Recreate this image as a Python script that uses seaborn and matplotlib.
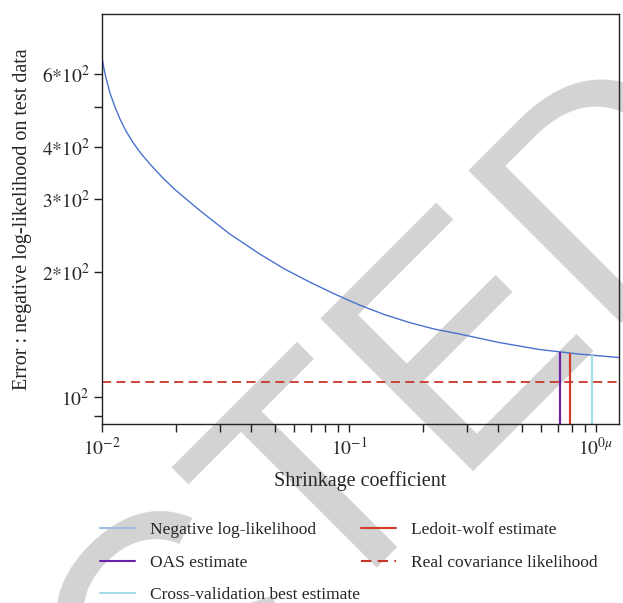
import numpy as np
import pandas as pd
import matplotlib
matplotlib.use("Agg")
import matplotlib.pyplot as plt
import seaborn as sns
from matplotlib.lines import Line2D

# ---- data ----
shrinkage = [0.01, 0.010188, 0.010379, 0.010773, 0.011286, 0.011822, 0.0125, 0.013344,
             0.014374, 0.015629, 0.017475, 0.019721, 0.024888, 0.032898, 0.043487,
             0.054882, 0.069249, 0.087378, 0.11026, 0.13912, 0.17555, 0.22153,
             0.27951, 0.40558, 0.5885, 0.8538, 1.2388]
neg_loglik = [659.6, 617.2, 587.1, 540.1, 499.7, 467.7, 437.5, 410.5,
              386.2, 364.3, 338.9, 316.2, 281.4, 247.1, 221.1,
              203.4, 189.3, 177.1, 166.6, 158.0, 151.2, 145.8,
              141.9, 135.3, 130.2, 126.9, 124.5]
oas_x, oas_top = 0.7176, 128.4
lw_x, lw_top = 0.785, 127.6
cv_x, cv_top = 0.9663, 126.2
real_likelihood = 108.7

ytick_vals = [90, 100, 200, 300, 400, 500, 600]
ytick_labels = ["", r"$10^{2}$", r"$2{*}10^{2}$", r"$3{*}10^{2}$", r"$4{*}10^{2}$", "", r"$6{*}10^{2}$"]
xtick_vals = [0.01, 0.1, 1.0]
xtick_labels = [r"$10^{-2}$", r"$10^{-1}$", r"$10^{0\mu}$"]

df = pd.DataFrame({"shrinkage": shrinkage, "nll": neg_loglik})

# ---- style ----
sns.set_style("ticks")
plt.rcParams["font.family"] = ["Liberation Serif", "DejaVu Serif"]
plt.rcParams["mathtext.fontset"] = "stix"

c_nll = "#4a72cf"
c_oas = "#6a22a8"
c_lw = "#d23b2c"
c_cv = "#a3dde6"
c_real = "#c8372b"

fig = plt.figure(figsize=(6.23, 6.03), dpi=100)
ax = fig.add_axes([102 / 623, 1 - 424 / 603, (619 - 102) / 623, (424 - 14) / 603])
ax.set_facecolor("none")

# watermark stamp behind the chart
fig.text(757 / 623, 1 - 162 / 603, "RETRACTED", rotation=45, rotation_mode="anchor",
         ha="right", va="baseline", fontsize=226, family="Liberation Sans",
         color="#d3d3d3", zorder=-5)

sns.lineplot(data=df, x="shrinkage", y="nll", ax=ax, color=c_nll, lw=1.0,
             label="Negative log-likelihood", legend=False)
ax.set_xscale("log")
ax.set_yscale("log")
ax.set_xlim(0.01, 1.24)
ax.set_ylim(86.1, 837)
ylo = ax.get_ylim()[0]
ax.vlines(oas_x, ylo, oas_top, color=c_oas, lw=1.6, label="OAS estimate")
ax.vlines(lw_x, ylo, lw_top, color=c_lw, lw=1.6, label="Ledoit-wolf estimate")
ax.vlines(cv_x, ylo, cv_top, color=c_cv, lw=1.6, label="Cross-validation best estimate")
ax.axhline(real_likelihood, color=c_real, lw=1.3, ls=(0, (5, 3)),
           label="Real covariance likelihood")

ax.set_yticks(ytick_vals)
ax.set_yticklabels(ytick_labels)
ax.yaxis.set_minor_locator(matplotlib.ticker.NullLocator())
ax.set_xticks(xtick_vals)
ax.set_xticklabels(xtick_labels)
ax.xaxis.set_minor_locator(matplotlib.ticker.LogLocator(base=10, subs=np.arange(2, 10)))
ax.xaxis.set_minor_formatter(matplotlib.ticker.NullFormatter())
ax.tick_params(which="both", direction="out", length=6, width=1.0, color="#222222",
               labelsize=14, pad=3)
for s in ax.spines.values():
    s.set_linewidth(1.0)
    s.set_color("#222222")
    s.set_visible(True)

ax.set_xlabel("Shrinkage coefficient", fontsize=14.5)
ax.set_ylabel("Error : negative log-likelihood on test data", fontsize=14.5)
ax.xaxis.set_label_coords(0.5, -0.114)
ax.yaxis.set_label_coords(-0.135, 0.5)

h1 = [Line2D([], [], color="#9dbde3", lw=1.5),
      Line2D([], [], color=c_oas, lw=1.5),
      Line2D([], [], color=c_cv, lw=1.5)]
l1 = ["Negative log-likelihood", "OAS estimate", "Cross-validation best estimate"]
h2 = [Line2D([], [], color=c_lw, lw=1.5),
      Line2D([], [], color=c_real, lw=1.5, ls=(0, (5, 3)))]
l2 = ["Ledoit-wolf estimate", "Real covariance likelihood"]

leg_kw = dict(frameon=False, fontsize=12.5, loc="upper left", borderpad=0,
              borderaxespad=0, handlelength=2.0, handletextpad=0.9, labelspacing=0.95,
              bbox_transform=fig.transFigure)
leg1 = ax.legend(h1, l1, bbox_to_anchor=(100 / 623, 1 - 522 / 603), **leg_kw)
ax.add_artist(leg1)
leg2 = ax.legend(h2, l2, bbox_to_anchor=(361 / 623, 1 - 522 / 603), **leg_kw)

fig.savefig("out.png", dpi=100)
